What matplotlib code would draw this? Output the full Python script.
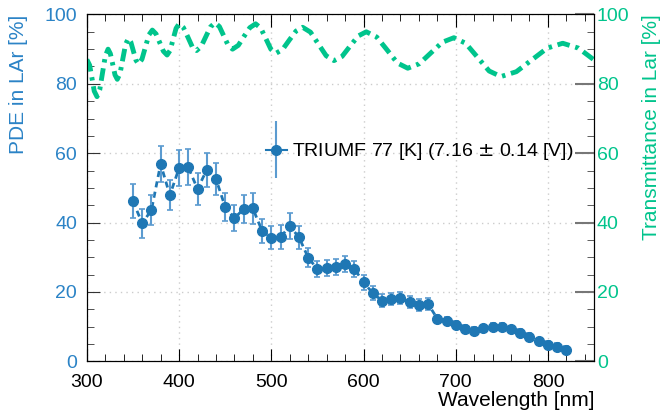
import matplotlib
matplotlib.use("Agg")
import matplotlib.pyplot as plt
from matplotlib.ticker import MultipleLocator
from matplotlib.legend_handler import HandlerErrorbar
from matplotlib.container import ErrorbarContainer

plt.rcParams['font.family'] = ['Liberation Sans', 'DejaVu Sans']

# PDE data
wavelength = [350, 360, 370, 380, 390, 400, 410, 420, 430, 440, 450, 460, 470, 480,
              490, 500, 510, 520, 530, 540, 550, 560, 570, 580, 590, 600, 610, 620,
              630, 640, 650, 660, 670, 680, 690, 700, 710, 720, 730, 740, 750, 760,
              770, 780, 790, 800, 810, 820]
pde = [46.2, 39.8, 43.6, 56.9, 47.9, 55.7, 55.9, 49.7, 55.2, 52.6, 44.5, 41.3, 43.9, 44.1,
       37.6, 35.7, 35.8, 39.0, 35.8, 29.9, 26.6, 26.9, 27.2, 28.0, 26.7, 22.8, 19.7, 17.5,
       18.0, 18.3, 17.1, 16.3, 16.6, 12.3, 11.6, 10.5, 9.4, 8.8, 9.5, 10.0, 10.0, 9.2,
       8.3, 7.1, 5.8, 4.8, 4.2, 3.4]
pde_err = [4.8, 4.2, 4.4, 5.2, 4.3, 5.1, 5.2, 4.5, 4.9, 4.7, 4.1, 3.8, 4.1, 4.4,
           3.5, 3.4, 3.4, 3.7, 3.3, 2.8, 2.4, 2.4, 2.3, 2.3, 2.3, 2.2, 2.0, 1.8,
           1.8, 1.8, 1.8, 1.8, 1.8, 1.2, 1.2, 1.2, 1.1, 1.1, 1.1, 1.1, 1.1, 1.0,
           1.0, 1.0, 1.0, 1.0, 1.0, 1.0]

# Transmittance data
t_wl = [300, 303, 305.5, 308, 311, 314, 317, 320, 323, 325.5, 328, 330.5, 333, 336, 339, 342,
        345, 347.75, 350.5, 353.25, 356, 359.75, 363.5, 367.25, 371, 375, 379, 383, 387,
        390.25, 393.5, 396.75, 400, 404.75, 409.5, 414.25, 419, 424, 429, 434, 439,
        443.75, 448.5, 453.25, 458, 464.25, 470.5, 476.75, 483, 488.5, 494, 499.5, 505,
        512.25, 519.5, 526.75, 534, 542.5, 551, 559.5, 568, 576.75, 585.5, 594.25, 603,
        614.25, 625.5, 636.75, 648, 660.5, 673, 685.5, 698, 710.75, 723.5, 736.25, 749,
        765.75, 782.5, 799.25, 816, 833, 850]
t_val = [87.0, 85.4, 81.7, 77.9, 76.3, 78.3, 83.2, 88.0, 90.0, 88.7, 85.7, 82.6, 81.3, 83.0, 87.2, 91.4,
         93.1, 92.0, 89.4, 86.8, 85.7, 87.1, 90.6, 94.1, 95.5, 94.4, 91.9, 89.4, 88.3,
         89.6, 92.8, 96.0, 97.3, 96.2, 93.5, 90.7, 89.6, 90.8, 93.6, 96.4, 97.6,
         96.5, 93.8, 91.1, 90.0, 91.1, 93.7, 96.2, 97.3, 96.1, 93.1, 90.0, 88.8,
         89.9, 92.6, 95.2, 96.3, 94.9, 91.5, 88.1, 86.7, 87.9, 90.9, 93.8, 95.0,
         93.5, 89.8, 86.0, 84.5, 85.8, 88.9, 92.0, 93.3, 91.7, 87.7, 83.7, 82.1,
         83.5, 86.9, 90.3, 91.7, 90.3, 86.9]

legend_label = 'TRIUMF 77 [K] (7.16 $\\pm$ 0.14 [V])'

blue = '#1f77b4'
tick_blue = '#2b83c6'
green = '#00c48c'

fig = plt.figure(figsize=(6.63, 4.13), dpi=100)
ax = fig.add_axes([0.131, 0.125, 0.765, 0.84])

ax.plot(wavelength, pde, color=blue, lw=2.0, dashes=(2.2, 1.6), zorder=2)
ax.errorbar(wavelength, pde, yerr=pde_err, fmt='o', color=blue, ms=7,
            ecolor='#5b9bd0', elinewidth=1.5, capsize=2.5, capthick=1.2, zorder=3)
# legend entry (solid line + marker + error bar)
leg_handle = ax.errorbar([], [], yerr=[], fmt='o-', color=blue, ms=7, lw=1.5,
                         ecolor='#5b9bd0', elinewidth=1.5, capsize=2.5, capthick=1.2)

ax.set_xlim(300, 850)
ax.set_ylim(0, 100)
ax.xaxis.set_major_locator(MultipleLocator(100))
ax.xaxis.set_minor_locator(MultipleLocator(20))
ax.yaxis.set_major_locator(MultipleLocator(20))
ax.yaxis.set_minor_locator(MultipleLocator(5))
ax.grid(True, which='major', color='#cccccc', linestyle=(0, (1, 3)), lw=1.0)
ax.tick_params(axis='both', which='both', direction='in', top=True, labelsize=14)
ax.tick_params(axis='y', which='major', length=9, colors='#333333', labelcolor=tick_blue, pad=7)
ax.tick_params(axis='y', which='minor', length=5, colors='#333333')
ax.tick_params(axis='x', which='major', length=9, pad=9)
ax.tick_params(axis='x', which='minor', length=5)
ax.set_xlabel('Wavelength [nm]', fontsize=15, loc='right', labelpad=0)
ax.set_ylabel('PDE in LAr [%]', fontsize=15, loc='top', color=tick_blue, labelpad=12)

ax2 = ax.twinx()
ax2.plot(t_wl, t_val, color=green, lw=3.5, dashes=(2.6, 1.2, 0.7, 1.2))
ax2.set_ylim(0, 100)
ax2.yaxis.set_major_locator(MultipleLocator(20))
ax2.yaxis.set_minor_locator(MultipleLocator(5))
ax2.tick_params(axis='y', which='major', direction='in', length=14, colors='#777777',
                labelcolor=green, labelsize=14, width=1.5, pad=2)
ax2.tick_params(axis='y', which='minor', direction='in', length=5, colors='#444444')
ax2.set_ylabel('Transmittance in Lar [%]', fontsize=15, loc='top', color=green, labelpad=9)

ax.legend(handles=[leg_handle], labels=[legend_label],
          loc='center left', bbox_to_anchor=(0.319, 0.604), frameon=False,
          fontsize=14, handlelength=1.05, handletextpad=0.26,
          handler_map={ErrorbarContainer: HandlerErrorbar(xerr_size=0.5, yerr_size=1.45)})

fig.savefig('out.png', dpi=100)
